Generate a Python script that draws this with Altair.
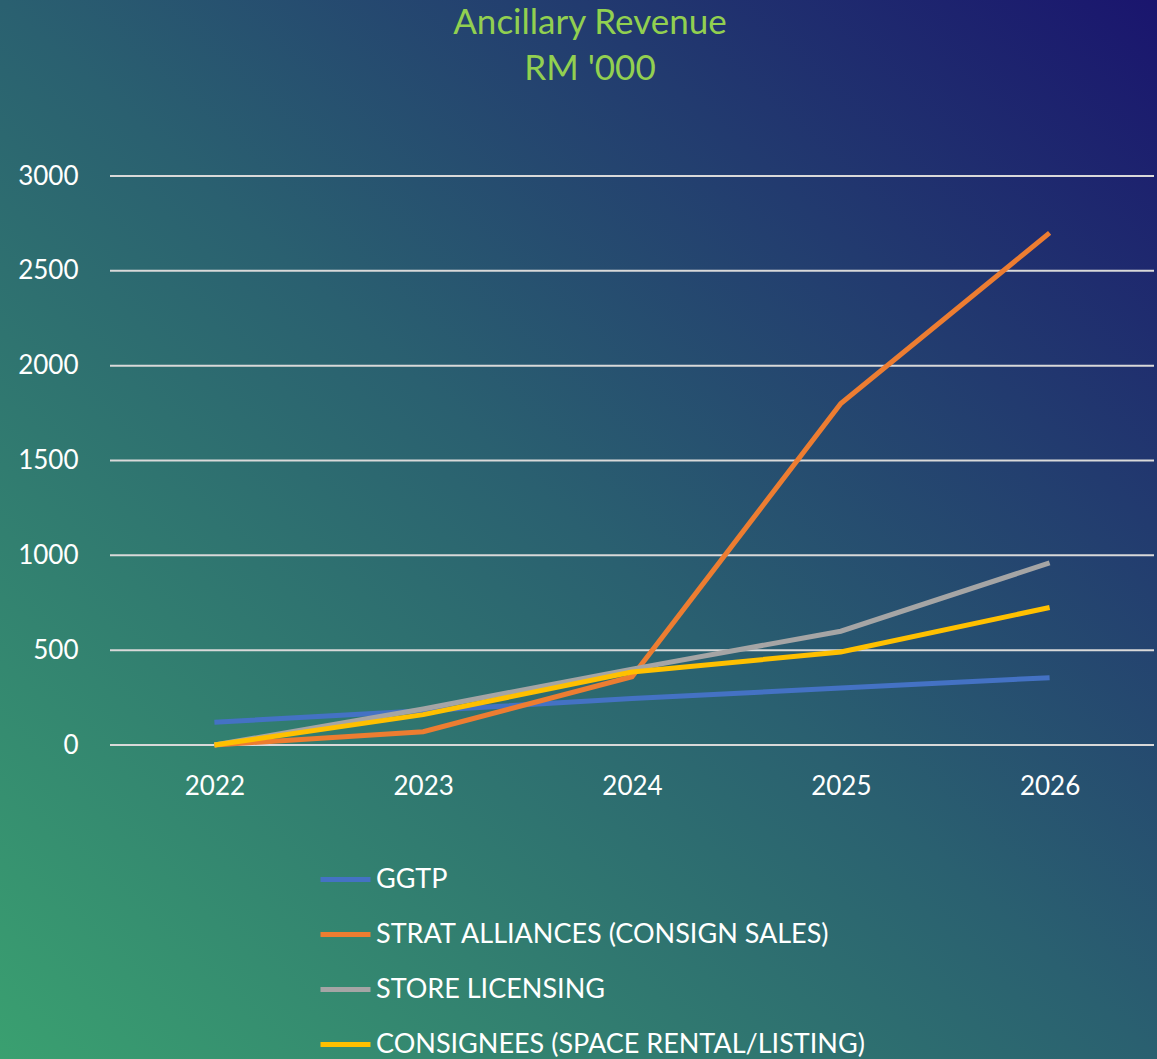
import altair as alt
import pandas as pd

years = ["2022", "2023", "2024", "2025", "2026"]
series = ["GGTP", "STRAT ALLIANCES (CONSIGN SALES)", "STORE LICENSING",
          "CONSIGNEES (SPACE RENTAL/LISTING)"]
ggtp = [120, 180, 245, 300, 355]
strat = [0, 70, 360, 1800, 2700]
store = [0, 190, 400, 600, 960]
consign = [0, 160, 385, 490, 725]
colors = ["#4472c4", "#ed7d31", "#a5a5a5", "#ffc000"]
y_ticks = [0, 500, 1000, 1500, 2000, 2500, 3000]

rows = []
for name, vals in zip(series, [ggtp, strat, store, consign]):
    for yr, v in zip(years, vals):
        rows.append({"Year": yr, "Series": name, "Value": v})
df = pd.DataFrame(rows)
grid_df = pd.DataFrame({"Value": y_ticks})

W, H = 1044, 569
PL, PT = 110, 176
PR = 1157 - PL - W
PB = 1059 - PT - H

FONT = "Lato"

bg = alt.Chart(pd.DataFrame({"a": [0]})).mark_rect(
    color=alt.LinearGradient(
        gradient="linear",
        stops=[
            alt.GradientStop(offset=0, color="#3aa070"),
            alt.GradientStop(offset=0.5, color="#2a6070"),
            alt.GradientStop(offset=1, color="#1a156e"),
        ],
        x1=0, y1=1, x2=1, y2=0,
    )
).encode(
    x=alt.value(-PL), x2=alt.value(W + PR),
    y=alt.value(-PT), y2=alt.value(H + PB),
)

yscale = alt.Scale(domain=[0, 3000], nice=False)

grid = alt.Chart(grid_df).mark_rule(color="#d9d9d9", strokeWidth=2).encode(
    y=alt.Y("Value:Q", scale=yscale, title=None),
    x=alt.value(0), x2=alt.value(W),
)

lines = alt.Chart(df).mark_line(strokeWidth=5).encode(
    x=alt.X("Year:N", sort=years, title=None,
            scale=alt.Scale(paddingInner=0, paddingOuter=0),
            axis=alt.Axis(labelAngle=0, ticks=False, domain=False, grid=False,
                          labelFontSize=26, labelColor="white", labelFont=FONT,
                          labelPadding=28, zindex=1)),
    y=alt.Y("Value:Q", title=None, scale=yscale,
            axis=alt.Axis(values=y_ticks, ticks=False, domain=False, grid=False,
                          format="d",
                          labelFontSize=26, labelColor="white", labelFont=FONT,
                          labelPadding=32, zindex=1)),
    color=alt.Color("Series:N", sort=series,
                    scale=alt.Scale(domain=series, range=colors),
                    legend=alt.Legend(
                        title=None, orient="none", legendX=208, legendY=676,
                        direction="vertical", symbolType="stroke",
                        symbolSize=2500, symbolStrokeWidth=5,
                        labelFontSize=27, labelColor="white", labelFont=FONT,
                        labelOffset=3, rowPadding=14, padding=0,
                        labelLimit=700)),
    order=alt.Order("Series:N"),
)

chart = alt.layer(bg, grid, lines).properties(
    width=W, height=H,
    title=alt.TitleParams(
        text=["Ancillary Revenue", "RM '000"],
        color="#92d050", font=FONT, fontSize=35, fontWeight="normal",
        anchor="middle", dx=-42, offset=0, dy=87, lineHeight=46,
    ),
    autosize=alt.AutoSizeParams(type="none"),
    padding={"left": PL, "top": PT, "right": PR, "bottom": PB},
).configure_view(stroke=None).configure(background="#2a6070")

chart.save("out.html", embed_options={"renderer": "svg", "actions": False})
